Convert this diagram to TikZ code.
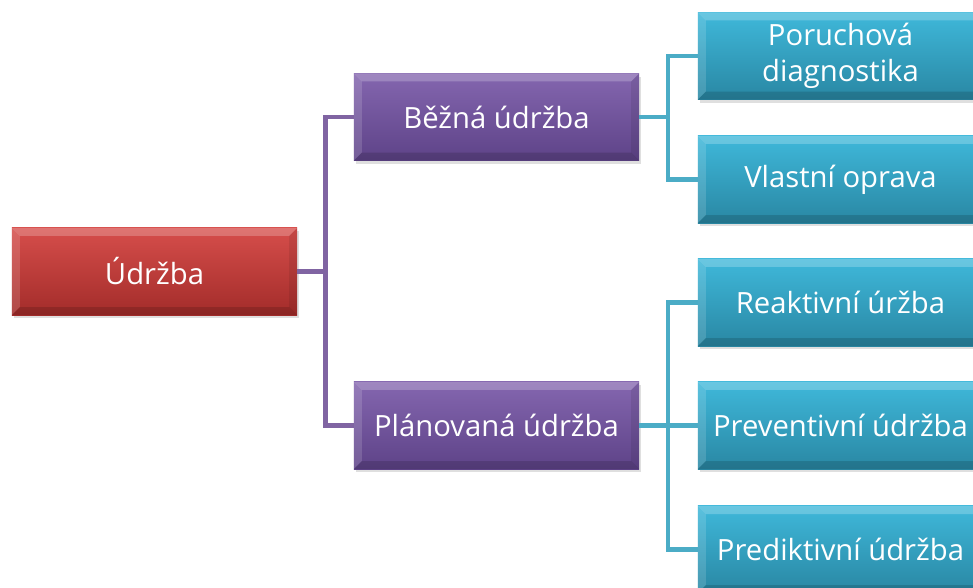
\documentclass[tikz,border=0pt]{standalone}
\usepackage{fontspec}
\setmainfont{Open Sans}
\usetikzlibrary{shadows}
\definecolor{redA}{HTML}{D64E4B}
\definecolor{redB}{HTML}{A32C2A}
\definecolor{purA}{HTML}{8466AF}
\definecolor{purB}{HTML}{5E4388}
\definecolor{aquA}{HTML}{3FB8DA}
\definecolor{aquB}{HTML}{2987A3}
\definecolor{lineP}{HTML}{8064A2}
\definecolor{lineA}{HTML}{4BACC6}
\tikzset{
  bevel/.style={path picture={
    \fill[white,opacity=0.22] (path picture bounding box.north west) -- (path picture bounding box.north east)
      -- ([shift={(-0.2cm,-0.2cm)}]path picture bounding box.north east) -- ([shift={(0.2cm,-0.2cm)}]path picture bounding box.north west) -- cycle;
    \fill[white,opacity=0.14] (path picture bounding box.north west) -- (path picture bounding box.south west)
      -- ([shift={(0.2cm,0.2cm)}]path picture bounding box.south west) -- ([shift={(0.2cm,-0.2cm)}]path picture bounding box.north west) -- cycle;
    \fill[black,opacity=0.08] (path picture bounding box.north east) -- (path picture bounding box.south east)
      -- ([shift={(-0.2cm,0.2cm)}]path picture bounding box.south east) -- ([shift={(-0.2cm,-0.2cm)}]path picture bounding box.north east) -- cycle;
    \fill[black,opacity=0.14] (path picture bounding box.south west) -- (path picture bounding box.south east)
      -- ([shift={(-0.2cm,0.2cm)}]path picture bounding box.south east) -- ([shift={(0.2cm,0.2cm)}]path picture bounding box.south west) -- cycle;
  }},
  box/.style={minimum width=7.125cm, minimum height=2.175cm, inner sep=0pt, align=center,
    text=white, font=\fontsize{20.8}{26}\selectfont,
    drop shadow={opacity=0.25, shadow xshift=0.04cm, shadow yshift=-0.08cm}, bevel},
  rootbox/.style={box, top color=redA, bottom color=redB},
  purbox/.style={box, top color=purA, bottom color=purB},
  aqubox/.style={box, top color=aquA, bottom color=aquB},
  plink/.style={draw=lineP, line width=3.5pt},
  alink/.style={draw=lineA, line width=3.5pt}
}
\begin{document}
\begin{tikzpicture}[x=0.025cm,y=-0.025cm]
\useasboundingbox[fill=white] (0,0) rectangle (973,587);
\node[rootbox] (root) at (154.5,271.5) {Údržba};
\node[purbox] (b1) at (496.5,117) {Běžná údržba};
\node[purbox] (b2) at (496.5,425.5) {Plánovaná údržba};
\node[aqubox] (c1) at (840.5,56) {Poruchová\\diagnostika};
\node[aqubox] (c2) at (840.5,179.5) {Vlastní oprava};
\node[aqubox] (c3) at (840.5,302.5) {Reaktivní úržba};
\node[aqubox] (c4) at (840.5,425.5) {Preventivní údržba};
\node[aqubox] (c5) at (840.5,549.5) {Prediktivní údržba};
\coordinate (j1) at (325.5,271.5);
\coordinate (j2) at (668,117);
\coordinate (j3) at (668,425.5);
\draw[plink] (root.east) -- (j1);
\draw[plink] (b1.west) -| (j1);
\draw[plink] (b2.west) -| (j1);
\draw[alink] (b1.east) -- (j2);
\draw[alink] (c1.west) -| (j2);
\draw[alink] (c2.west) -| (j2);
\draw[alink] (b2.east) -- (j3);
\draw[alink] (c3.west) -| (j3);
\draw[alink] (c4.west) -| (j3);
\draw[alink] (c5.west) -| (j3);
\end{tikzpicture}
\end{document}
